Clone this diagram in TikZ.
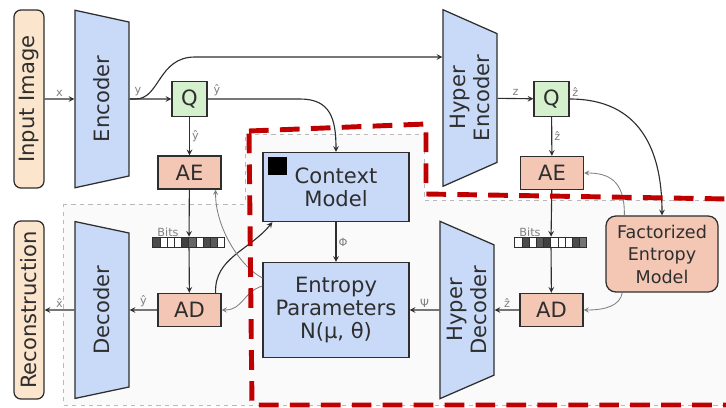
\documentclass[tikz,border=0pt]{standalone}
\usepackage{fontspec}
\setmainfont{DejaVu Sans}
\usetikzlibrary{shapes.geometric, arrows, calc}

\definecolor{codecBlue}{HTML}{C9DAF8}
\definecolor{coderSalmon}{HTML}{F4C7B5}
\definecolor{quantGreen}{HTML}{D4F0CC}
\definecolor{imageCream}{HTML}{FCE5CD}
\definecolor{lineGray}{HTML}{2E2E2E}
\definecolor{ctxRed}{HTML}{C00000}

\tikzstyle{imageBox} = [rectangle, rounded corners=5pt, rotate=90, minimum width=4.45cm, minimum height=0.75cm, draw=lineGray, line width=0.9pt, fill=imageCream, text=lineGray, font=\fontsize{15}{17}\selectfont]
\tikzstyle{codec} = [trapezium, trapezium left angle=112, trapezium right angle=112, trapezium stretches=true, rotate=90, minimum width=4.45cm, minimum height=1.35cm, inner sep=0pt, align=center, draw=lineGray, line width=0.9pt, fill=codecBlue, text=lineGray, font=\fontsize{15}{17}\selectfont]
\tikzstyle{quantBox} = [rectangle, minimum width=0.875cm, minimum height=0.86cm, inner sep=0pt, draw=lineGray, line width=0.9pt, fill=quantGreen, text=lineGray, font=\fontsize{15}{17}\selectfont]
\tikzstyle{coderBox} = [rectangle, minimum width=1.575cm, minimum height=0.83cm, inner sep=0pt, draw=lineGray, line width=0.9pt, fill=coderSalmon, text=lineGray, font=\fontsize{15}{17}\selectfont]
\tikzstyle{paramBox} = [rectangle, minimum width=3.65cm, align=center, draw=lineGray, line width=0.9pt, fill=codecBlue, text=lineGray, font=\fontsize{15}{16.5}\selectfont]
\tikzstyle{factorBox} = [rectangle, rounded corners=7pt, minimum width=2.8cm, minimum height=1.9cm, align=center, draw=lineGray, line width=0.9pt, fill=coderSalmon, text=lineGray, font=\fontsize{12.5}{16}\selectfont]
\tikzstyle{bitStrip} = [rectangle, minimum width=1.8cm, minimum height=0.25cm, inner sep=0pt]
\tikzstyle{lbl} = [text=gray, font=\fontsize{8}{9}\selectfont, inner sep=1.5pt]
\tikzstyle{arrow} = [line width=0.8pt, draw=lineGray, ->, >=stealth]
\tikzstyle{sideArrow} = [line width=0.6pt, draw=black!50, ->, >=stealth]

\begin{document}
\begin{tikzpicture}[x=0.025cm, y=-0.025cm]
\useasboundingbox (0,0) rectangle (726,408);

% decoder side region
\fill[gray!4] (63,204) -- (245,204) -- (245,134) -- (424,134) -- (424,200) -- (726,200) -- (726,405) -- (63,405) -- cycle;
\draw[gray!55, dashed, line width=0.7pt] (63,204) -- (245,204) -- (245,134) -- (424,134) -- (424,200) -- (726,200) -- (726,405) -- (63,405) -- cycle;

\node (inp) [imageBox] at (29,99) {Input Image};
\node (rec) [imageBox] at (29,310) {Reconstruction};
\node (enc) [codec] at (102,99) {Encoder};
\node (dec) [codec] at (102,310) {Decoder};
\node (henc) [codec] at (470,98) {Hyper\\Encoder};
\node (hdec) [codec] at (467,310) {Hyper\\Decoder};
\node (q1) [quantBox] at (189.5,99) {Q};
\node (ae1) [coderBox] at (189.5,172.5) {AE};
\node (bits1) [bitStrip] at (189,242) {};
\node (ad1) [coderBox] at (189.5,310) {AD};
\node (ctx) [paramBox, minimum height=1.725cm] at (336,187) {Context\\Model};
\node (ctxIcon) [fill=black, minimum size=0.45cm, inner sep=0pt] at (277.5,166) {};
\node (ent) [paramBox, minimum height=2.375cm] at (336,310) {Entropy\\Parameters\\N(μ, θ)};
\node (q2) [quantBox] at (551.5,99) {Q};
\node (ae2) [coderBox] at (552,173) {AE};
\node (bits2) [bitStrip] at (551,242) {};
\node (ad2) [coderBox] at (551.5,310) {AD};
\node (fem) [factorBox] at (662,254) {Factorized\\Entropy\\Model};
\node (bitsLabel1) [lbl] at (168,232) {Bits};
\node (bitsLabel2) [lbl] at (530,232) {Bits};

\foreach \shade [count=\i] in {70,0,0,0,75,60,0,70,65,0}
  \filldraw[fill=black!\shade, draw=lineGray, line width=0.5pt] ($(bits1.west)+({(\i-1)*7.2},-5)$) rectangle ++(7.2,10);
\foreach \shade [count=\i] in {0,70,0,65,75,0,0,0,70,55}
  \filldraw[fill=black!\shade, draw=lineGray, line width=0.5pt] ($(bits2.west)+({(\i-1)*7.2},-5)$) rectangle ++(7.2,10);

\draw [arrow] (inp) -- node[lbl, above]{x} (enc);
\draw [arrow] (enc) -- node[lbl, above, pos=0.2]{y} (q1);
\draw [arrow] (enc.south) -- ++(6,0) .. controls (160,99) and (158,57) .. (195,57) -- ($(henc.north)+(0,-41)$);
\draw [arrow] (q1.east) -- node[lbl, above, pos=0.1]{ŷ} (300,99) .. controls (330,99) and (336,118) .. (ctx.north);
\draw [arrow] (q1) -- node[lbl, right]{ŷ} (ae1);
\draw [arrow] (ae1) -- (bits1);
\draw [arrow] (bits1) -- (ad1);
\draw [arrow] (ad1) -- node[lbl, above]{ŷ} (dec);
\draw [arrow] (dec) -- node[lbl, above]{\^{x}} (rec);
\draw [arrow] ($(ad1.north east)+(-6,0)$) .. controls (214,258) and (250,250) .. ($(ctx.south west)+(10,0)$);
\draw [sideArrow] ($(ent.west)+(0,-32)$) .. controls (238,265) and (215,225) .. ($(ae1.south east)+(-6,0)$);
\draw [sideArrow] ($(ent.west)+(0,-24)$) .. controls (243,292) and (243,310) .. (ad1.east);
\draw [arrow] (ctx) -- node[lbl, right]{Φ} (ent);

\draw [arrow] (henc) -- node[lbl, above]{z} (q2);
\draw [arrow] (q2.east) node[lbl, above right]{ẑ} .. controls (640,99) and (662,150) .. (fem.north);
\draw [arrow] (q2) -- node[lbl, right]{ẑ} (ae2);
\draw [arrow] (ae2) -- (bits2);
\draw [arrow] (bits2) -- (ad2);
\draw [arrow] (ad2) -- node[lbl, above]{ẑ} (hdec);
\draw [arrow] (hdec) -- node[lbl, above]{Ψ} (ent);
\draw [sideArrow] ($(fem.north west)+(19,0)$) .. controls (625,180) and (608,173) .. (ae2.east);
\draw [sideArrow] ($(fem.south west)+(17,0)$) .. controls (620,306) and (605,310) .. (ad2.east);

% context model part
\draw[ctxRed, line width=3.5pt, dash pattern=on 14pt off 8pt] (249,131) -- (426,124) -- (426,194) -- (729,199) -- (729,405) -- (252,405) -- cycle;
\end{tikzpicture}
\end{document}
